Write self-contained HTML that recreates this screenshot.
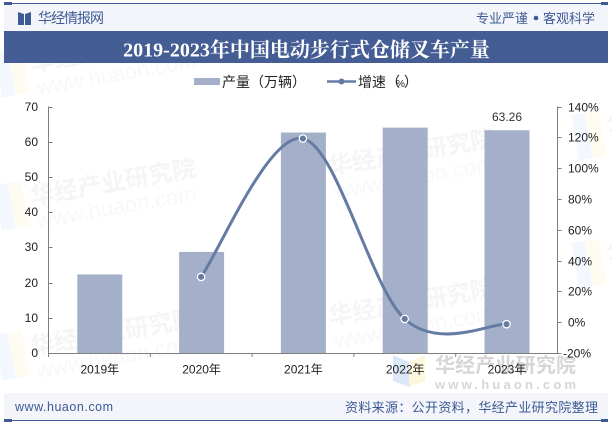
<!DOCTYPE html>
<html lang="zh">
<head>
<meta charset="utf-8">
<title>2019-2023年中国电动步行式仓储叉车产量</title>
<style>
html,body{margin:0;padding:0;background:#fff;}
#page{position:relative;width:612px;height:424px;overflow:hidden;background:#fff;font-family:"Liberation Sans","Noto Sans CJK SC",sans-serif;}
svg{position:absolute;left:0;top:0;}
</style>
</head>
<body>
<div id="page">
<svg id="chart" width="612" height="424" viewBox="0 0 612 424" xmlns="http://www.w3.org/2000/svg">
  <g id="watermarks"></g>

  <g>
    <polygon points="393,355 409,362 409,387 393,381" fill="#dbe8fa"/>
    <polygon points="409,362 425,355 425,381 409,387" fill="#fdf6dc"/>
    <text x="435" y="372" font-size="20" font-weight="700" fill="#d6d6d6" textLength="141" font-family="'Liberation Sans','Noto Sans CJK SC',sans-serif">华经产业研究院</text>
    <text x="435" y="389" font-size="13" font-weight="700" fill="#d6d6d6" textLength="141" font-family="'Liberation Sans',sans-serif">www.huaon.com</text>
  </g>

  <g>
    <rect x="4" y="4" width="604" height="27" fill="#f3f5fa"/>
    <rect x="4" y="3" width="604" height="1" fill="#3d5a94"/>
    <rect x="4" y="2" width="8" height="3" fill="#3d5a94"/>
    <rect x="601" y="2" width="7" height="3" fill="#3d5a94"/>
    <polygon points="18,12 24,14 24,25 18,25" fill="#3d5a94"/>
    <polygon points="31,12 25,14 25,25 31,25" fill="#3d5a94"/>
    <text x="38" y="23" font-size="14" fill="#3d5a94" textLength="66">华经情报网</text>
    <text x="476" y="23" font-size="13" fill="#3d5a94" textLength="52">专业严谨</text>
    <circle cx="536" cy="18" r="2.3" fill="#3d5a94"/>
    <text x="543" y="23" font-size="13" fill="#3d5a94" textLength="52">客观科学</text>
  </g>

  <rect x="4" y="31" width="604" height="32" fill="#445d94"/>
  <text x="306.5" y="56.5" font-size="20" font-weight="700" fill="#ffffff" text-anchor="middle" font-family="'Liberation Serif','Noto Serif CJK SC',serif">2019-2023年中国电动步行式仓储叉车产量</text>

  <g>
    <rect x="194" y="78" width="26" height="7" fill="#a4b0c9"/>
    <text x="222" y="87" font-size="14" fill="#222" textLength="84">产量（万辆）</text>
    <line x1="327" y1="81.5" x2="356" y2="81.5" stroke="#667ba3" stroke-width="2.5"/>
    <circle cx="341.5" cy="81.5" r="3" fill="#667ba3"/>
    <text x="358" y="87" font-size="14" fill="#222">增速（<tspan font-size="10" dx="-4">%</tspan><tspan dx="-1">）</tspan></text>
  </g>

  <g id="bars"></g>
  <g id="axes"></g>
  <g id="line"></g>

  <g>
    <rect x="4" y="393" width="604" height="27" fill="#f3f5fa"/>
    <rect x="4" y="420" width="604" height="1" fill="#3d5a94"/>
    <rect x="4" y="419" width="8" height="3" fill="#3d5a94"/>
    <rect x="601" y="419" width="7" height="3" fill="#3d5a94"/>
    <text x="15" y="411" font-size="12.5" fill="#3d5a94" textLength="98">www.huaon.com</text>
    <text x="598" y="412" font-size="13" fill="#3d5a94" text-anchor="end" textLength="253">资料来源：公开资料，华经产业研究院整理</text>
  </g>
</svg>
</div>
<script>
var categories = ['2019年', '2020年', '2021年', '2022年', '2023年'];
var outputValues = [22.3, 28.7, 62.6, 64, 63.26];
var growthValues = [null, 29.4, 119.2, 2.1, -1.3];
var outputTicks = [0, 10, 20, 30, 40, 50, 60, 70];
var growthTicks = [-20, 0, 20, 40, 60, 80, 100, 120, 140];
var printedValues = [null, null, null, null, '63.26'];
var watermarkOrigins = [[32, 72], [32, 205], [32, 355], [330, 175], [330, 325], [609, 135], [609, 263]];

var NS = 'http://www.w3.org/2000/svg';
var plotLeft = 48.5, plotRight = 557.5, plotBottom = 353, plotTop = 106.5;
var barWidth = 45;

function xCenter(i) {
  return plotLeft + (plotRight - plotLeft) * (i + 0.5) / categories.length + 0.4;
}
function yLeft(v) {
  return plotBottom - (v - 0) / (70 - 0) * (plotBottom - plotTop);
}
function yRight(v) {
  return plotBottom - (v + 20) / 160 * (plotBottom - plotTop);
}
function make(tag, attrs, parent) {
  var el = document.createElementNS(NS, tag);
  for (var k in attrs) { el.setAttribute(k, attrs[k]); }
  parent.appendChild(el);
  return el;
}

var wmLayer = document.getElementById('watermarks');
watermarkOrigins.forEach(function (o) {
  var g = make('g', { transform: 'rotate(-10 ' + o[0] + ' ' + o[1] + ')' }, wmLayer);
  
  
  var logoA = make('rect', { x: o[0] - 34, y: o[1] - 26, width: 14, height: 46, fill: '#f3f8fe' }, g);
  
  
  var logoB = make('rect', { x: o[0] - 20, y: o[1] - 26, width: 14, height: 46, fill: '#fefcf0' }, g);
  
  
  var t1 = make('text', { x: o[0], y: o[1], 'font-size': 24, 'font-weight': 700, fill: '#f5f5f5', textLength: 168 }, g);
  
  
  t1.textContent = '华经产业研究院';
  var t2 = make('text', { x: o[0] + 2, y: o[1] + 24, 'font-size': 22, fill: '#f8f8f8' }, g);
  
  
  t2.textContent = 'www.huaon.com';
});

var barsLayer = document.getElementById('bars');
outputValues.forEach(function (v, i) {
  var bar = make('rect', {
    x: xCenter(i) - barWidth / 2,
    y: yLeft(v),
    width: barWidth,
    height: plotBottom - yLeft(v),
    fill: '#a4b0c9'
  }, barsLayer);
  
  
  if (printedValues[i] !== null) {
    var lbl = make('text', {
      x: xCenter(i),
      y: yLeft(v) - 9,
      'font-size': 12,
      fill: '#333',
      'text-anchor': 'middle'
    }, barsLayer);
    
    
    lbl.textContent = printedValues[i];
  }
});

var axes = document.getElementById('axes');
var axisColor = '#7f7f7f';
var leftAxis = make('line', { x1: plotLeft, y1: plotTop, x2: plotLeft, y2: plotBottom, stroke: axisColor }, axes);


var rightAxis = make('line', { x1: plotRight, y1: plotTop, x2: plotRight, y2: plotBottom, stroke: axisColor }, axes);


var bottomAxis = make('line', { x1: plotLeft, y1: plotBottom + 0.5, x2: plotRight, y2: plotBottom + 0.5, stroke: axisColor }, axes);



outputTicks.forEach(function (v) {
  var y = Math.round(yLeft(v)) + 0.5;
  var tick = make('line', { x1: plotLeft, y1: y, x2: plotLeft + 4, y2: y, stroke: axisColor }, axes);
  
  
  var txt = make('text', { x: 38, y: y + 3.5, 'font-size': 12, fill: '#222', 'text-anchor': 'end' }, axes);
  
  
  txt.textContent = v;
});

growthTicks.forEach(function (v) {
  var y = Math.round(yRight(v)) + 0.5;
  var tick = make('line', { x1: plotRight, y1: y, x2: plotRight + 4, y2: y, stroke: axisColor }, axes);
  
  
  var txt = make('text', { x: 568, y: y + 4, 'font-size': 12, fill: '#222' }, axes);
  
  
  txt.textContent = v + '%';
  if (v < 0) { txt.setAttribute('x', 568 - 5); }
});

categories.forEach(function (c, i) {
  var edge = plotLeft + (plotRight - plotLeft) * i / categories.length;
  var tick = make('line', { x1: edge, y1: plotBottom, x2: edge, y2: plotBottom + 4, stroke: axisColor }, axes);
  
  
  var txt = make('text', { x: xCenter(i), y: 373.5, 'font-size': 12, fill: '#222', 'text-anchor': 'middle' }, axes);
  
  
  txt.textContent = c;
});

var lineLayer = document.getElementById('line');
var pts = [];
growthValues.forEach(function (v, i) {
  if (v !== null) { pts.push([xCenter(i) - 0.5, yRight(v)]); }
});
var tension = 0.5;
var d = 'M' + pts[0][0] + ' ' + pts[0][1];
for (var i = 0; i < pts.length - 1; i++) {
  var p0 = pts[Math.max(i - 1, 0)], p1 = pts[i], p2 = pts[i + 1], p3 = pts[Math.min(i + 2, pts.length - 1)];
  var c1x = p1[0] + (p2[0] - p0[0]) * tension / 3 * 1.0;
  var c1y = p1[1] + (p2[1] - p0[1]) * tension / 3 * 1.0;
  var c2x = p2[0] - (p3[0] - p1[0]) * tension / 3 * 1.0;
  var c2y = p2[1] - (p3[1] - p1[1]) * tension / 3 * 1.0;
  d += ' C' + c1x + ' ' + c1y + ' ' + c2x + ' ' + c2y + ' ' + p2[0] + ' ' + p2[1];
}
var path = make('path', { d: d, fill: 'none', stroke: '#667ba3', 'stroke-width': 3, 'stroke-linecap': 'round' }, lineLayer);


pts.forEach(function (p) {
  var dot = make('circle', { cx: p[0], cy: p[1], r: 3.7, fill: '#667ba3', stroke: '#ffffff', 'stroke-width': 1.3 }, lineLayer);
  
  
});
</script>
</body>
</html>
